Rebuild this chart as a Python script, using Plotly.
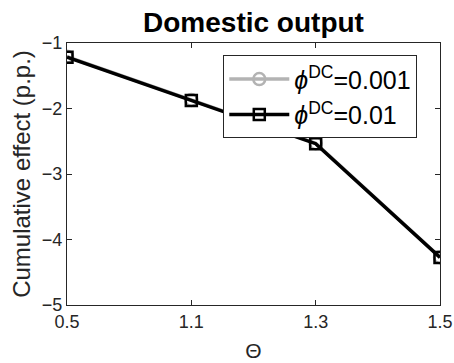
import plotly.graph_objects as go

# Theta values (equally spaced categories) and cumulative effects
theta_labels = ["0.5", "1.1", "1.3", "1.5"]
effect_low = [-1.21, -1.87, -2.53, -4.27]    # phi^DC = 0.001
effect_high = [-1.216, -1.877, -2.537, -4.274]  # phi^DC = 0.01
y_ticks = [-5, -4, -3, -2, -1]

positions = list(range(len(theta_labels)))
FONT = "Liberation Sans, Arial, sans-serif"
AX = "#262626"

fig = go.Figure()
fig.add_trace(go.Scatter(
    x=positions, y=effect_low, mode="lines+markers",
    name="<i>ϕ</i><sup>DC</sup>=0.001",
    line=dict(color="#b3b3b3", width=3.5),
    marker=dict(symbol="circle-open", size=12, color="#b3b3b3", line=dict(width=2.5)),
))
fig.add_trace(go.Scatter(
    x=positions, y=effect_high, mode="lines+markers",
    name="<i>ϕ</i><sup>DC</sup>=0.01",
    line=dict(color="black", width=3.5),
    marker=dict(symbol="square-open", size=11, color="black", line=dict(width=2.5)),
))

fig.update_layout(
    width=454, height=363,
    margin=dict(l=67, r=14, t=43, b=58),
    paper_bgcolor="white", plot_bgcolor="white",
    font=dict(family=FONT, color=AX),
    title=dict(text="<b>Domestic output</b>", xref="paper", x=0.5, xanchor="center",
               y=0.94, yanchor="middle", font=dict(size=28, color="black")),
    showlegend=True,
    legend=dict(x=0.419, y=0.953, xanchor="left", yanchor="top",
                bgcolor="white", bordercolor=AX, borderwidth=1,
                font=dict(size=25, color="black"), itemwidth=60,
                tracegroupgap=0),
    xaxis=dict(
        range=[0, len(theta_labels) - 1],
        tickvals=positions, ticktext=theta_labels,
        ticks="inside", ticklen=5, tickcolor=AX, tickwidth=1,
        showline=True, linecolor=AX, linewidth=1, mirror="ticks",
        showgrid=False, zeroline=False, automargin=False,
        tickfont=dict(size=18, color=AX),
        title=dict(text="Θ", font=dict(size=21, color=AX), standoff=12),
    ),
    yaxis=dict(
        range=[-5, -1], tickvals=y_ticks,
        ticks="inside", ticklen=5, tickcolor=AX, tickwidth=1,
        showline=True, linecolor=AX, linewidth=1, mirror="ticks",
        showgrid=False, zeroline=False, automargin=False,
        tickfont=dict(size=18, color=AX),
        title=dict(text="Cumulative effect (p.p.)", font=dict(size=24, color=AX), standoff=4),
    ),
)

fig.write_html("out.html")
